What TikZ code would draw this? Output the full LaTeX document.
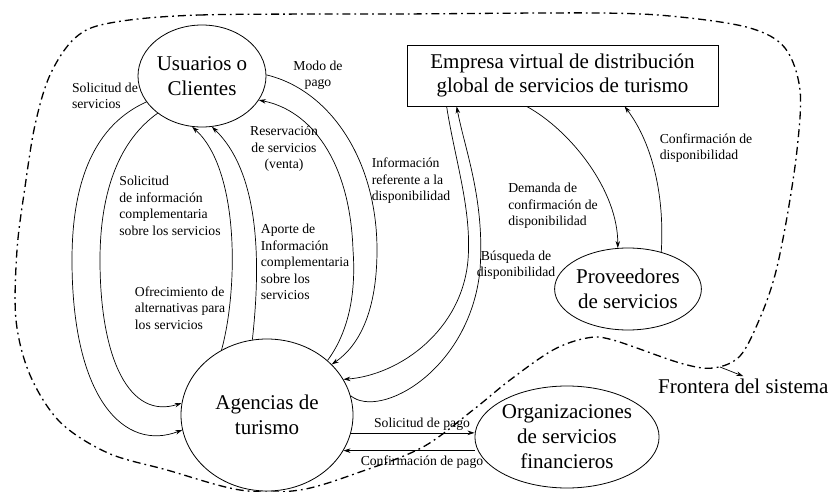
\documentclass[tikz,border=0pt]{standalone}
\usepackage{fontspec}
\setmainfont{Liberation Serif}
\usetikzlibrary{shapes.geometric,arrows.meta}
\tikzset{
  entity/.style = {shape=ellipse, draw, align=center, inner sep=0pt,
                   line width=0.8pt, font=\fontsize{21}{25}\selectfont},
  sysbox/.style = {shape=rectangle, draw, align=center, line width=0.8pt,
                   minimum width=311pt, minimum height=61pt,
                   font=\fontsize{21}{24}\selectfont},
  lbl/.style    = {align=left, inner sep=0pt,
                   font=\fontsize{13.7}{16.5}\selectfont},
  flow/.style   = {-{Stealth[length=7pt,width=4.5pt]}, line width=0.7pt},
  border/.style = {line width=1.3pt, dash pattern=on 8pt off 4pt on 1.8pt off 4pt}
}

\begin{document}
\begin{tikzpicture}[x=1pt,y=-1pt]
 \useasboundingbox (0,0) rectangle (831,492);

 \node [entity, minimum width=128pt, minimum height=102pt] (usu) at (202,76) {Usuarios o\\Clientes};
 \node [entity, minimum width=172pt, minimum height=152pt] (age) at (267,415) {Agencias de\\turismo};
 \node [sysbox] (emp) at (562.5,75.5) {Empresa virtual de distribución\\global de servicios de turismo};
 \node [entity, minimum width=114pt, minimum height=82pt] (prov) at (628,289) {Proveedores\\de servicios};
 \node [entity, minimum width=145pt, minimum height=102pt] (org) at (567,437) {Organizaciones\\de servicios\\financieros};
 \node [font=\fontsize{21}{25}\selectfont, anchor=base west, inner sep=2pt] (fro) at (656,393) {Frontera del sistema};

 \node [lbl] (lsol) at (105,96) {Solicitud de\\servicios};
 \node [lbl, align=center] (lmodo) at (318,75) {Modo de\\pago};
 \node [lbl, align=center] (lres) at (284,149) {Reservación\\de servicios\\(venta)};
 \node [lbl] (lsinf) at (170,206) {Solicitud\\de información\\complementaria\\sobre los servicios};
 \node [lbl] (lapo) at (305,262) {Aporte de\\Información\\complementaria\\sobre los\\servicios};
 \node [lbl] (lofr) at (180,308) {Ofrecimiento de\\alternativas para\\los servicios};
 \node [lbl] (linf) at (411,181) {Información\\referente a la\\disponibilidad};
 \node [lbl] (ldem) at (553,206) {Demanda de\\confirmación de\\disponibilidad};
 \node [lbl] (lconf) at (706,148) {Confirmación de\\disponibilidad};
 \node [lbl, align=center] (lbus) at (516,265) {Búsqueda de\\disponibilidad};
 \node [lbl] (lspago) at (422,424) {Solicitud de pago};
 \node [lbl] (lcpago) at (422,462) {Confirmación de pago};

 \draw [flow] (usu.205) .. controls (95,125) and (72,180) .. (72,260)
                        .. controls (72,400) and (125,452) .. (age.190);
 \draw [flow] (usu.220) .. controls (120,140) and (100,190) .. (100,260)
                        .. controls (100,360) and (130,420) .. (age.172);
 \draw [flow] (age.125) .. controls (238,290) and (240,170) .. (usu.259);
 \draw [flow] (age.101) .. controls (260,270) and (262,175) .. (usu.281);
 \draw [flow] (age.42) .. controls (350,330) and (356,290) .. (353,250)
                       .. controls (350,160) and (310,110) .. (usu.337);
 \draw [flow] (usu.1) .. controls (330,90) and (377,160) .. (377,250)
                      .. controls (377,310) and (360,345) .. (age.38);

 \draw [flow] ([xshift=40pt]emp.south west) .. controls (455,160) and (472,210) .. (468,260)
                      .. controls (462,330) and (400,375) .. (age.25);
 \draw [flow] (age.13) .. controls (380,420) and (470,370) .. (480,270)
                       .. controls (485,200) and (465,150) .. ([xshift=50pt]emp.south west);
 \draw [flow] ([xshift=120pt]emp.south west) .. controls (570,130) and (618,190) .. (prov.104);
 \draw [flow] (prov.48) .. controls (665,190) and (650,140) .. ([xshift=218pt]emp.south west);

 \draw [flow] (age.-12) -- (age.-12 -| org.west);
 \draw [flow] (age.-25 -| org.west) -- (age.-25);

 \draw [border] plot [smooth cycle, tension=0.55] coordinates {
   (110,23) (200,15) (400,14) (600,13) (680,17) (750,28) (785,48) (800,90)
   (797,150) (787,217) (775,275) (760,318) (740,356) (713,368) (680,363)
   (613,340) (587,338) (553,350) (510,380) (473,410) (423,447) (360,472)
   (300,490) (240,490) (167,470) (108,453) (60,422) (30,375) (16,320)
   (17,250) (25,187) (35,125) (50,75) (75,38)};
 \coordinate (bnd) at (720,367);
 \draw [flow] (bnd) -- (fro.north);
\end{tikzpicture}
\end{document}
